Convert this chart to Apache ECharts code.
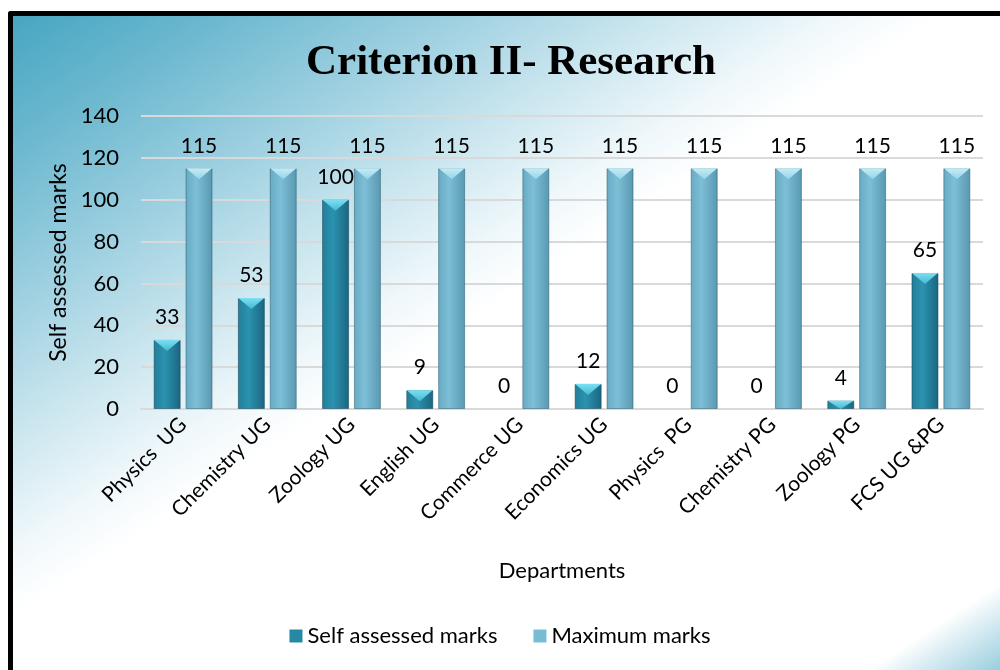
<!DOCTYPE html>
<html>
<head>
<meta charset="utf-8">
<script src="https://cdn.jsdelivr.net/npm/echarts@6/dist/echarts.min.js"></script>
<style>
  html, body { margin: 0; padding: 0; background: #ffffff; width: 1000px; height: 670px; overflow: hidden; }
  #bg { position: absolute; left: 8px; top: 11px; width: 1010px; height: 680px;
        border-left: 5px solid #000; border-top: 5px solid #000; border-top-left-radius: 3px;
        background: linear-gradient(147deg, #47a6c2 0%, #6cb8cf 10%, #9ccfe0 21%, #c9e5ee 31%, #f0f8fb 40%, #ffffff 45%, #ffffff 90.5%, #e6f3f7 92%, #a8d5e3 96%, #62b3cc 100%); }
  #chart { position: absolute; left: 0; top: 0; width: 1000px; height: 670px; }
</style>
</head>
<body>
<div id="bg"></div>
<div id="chart"></div>
<script>
const categories = ['Physics  UG', 'Chemistry UG', 'Zoology UG', 'English UG', 'Commerce UG', 'Economics UG', 'Physics  PG', 'Chemistry PG', 'Zoology PG', 'FCS UG &PG'];
const selfAssessed = [33, 53, 100, 9, 0, 12, 0, 0, 4, 65];
const maximumMarks = [115, 115, 115, 115, 115, 115, 115, 115, 115, 115];
const yTicks = { min: 0, max: 140, interval: 20 };

const FONT = 'Lato, "Open Sans", sans-serif';
const chart = echarts.init(document.getElementById('chart'), null, { renderer: 'canvas' });

const selfColor = new echarts.graphic.LinearGradient(0, 0, 1, 0, [
  { offset: 0, color: '#237d98' }, { offset: 0.4, color: '#2b93b0' }, { offset: 1, color: '#1b6580' }]);
const maxColor = new echarts.graphic.LinearGradient(0, 0, 1, 0, [
  { offset: 0, color: '#67aac3' }, { offset: 0.4, color: '#7dbfd6' }, { offset: 1, color: '#5898b1' }]);
const selfTop = new echarts.graphic.LinearGradient(0, 0, 0, 1, [
  { offset: 0, color: '#7be0f2' }, { offset: 1, color: '#45b8d2' }]);
const maxTop = new echarts.graphic.LinearGradient(0, 0, 0, 1, [
  { offset: 0, color: '#c4ecf6' }, { offset: 1, color: '#97d3e6' }]);

// pixels per unit on the value axis (grid height / axis range), used only to keep the top bevel inside short bars
const pxPerUnit = (670 - 116 - 261) / (yTicks.max - yTicks.min);

function barItems(values, border) {
  return values.map(v => ({ value: v, itemStyle: v > 0 ? { borderColor: border, borderWidth: 1 } : { borderWidth: 0 } }));
}
function topItems(values) {
  return values.map(v => v > 0 ? { value: v, symbolSize: [26, Math.min(11, v * pxPerUnit)] } : '-');
}

const labelStyle = { show: true, position: 'top', distance: 12, fontFamily: FONT, fontSize: 21, color: '#000' };

const option = {
  animation: false,
  backgroundColor: 'transparent',
  title: {
    text: 'Criterion II- Research',
    left: 506, top: 36, textAlign: 'center',
    textStyle: { fontFamily: '"Liberation Serif", "DejaVu Serif", serif', fontWeight: 'bold', fontSize: 43, color: '#000' }
  },
  legend: {
    bottom: 18, left: 'center',
    itemWidth: 13, itemHeight: 13, itemGap: 36,
    textStyle: { fontFamily: FONT, fontSize: 22, color: '#000' },
    data: [
      { name: 'Self assessed marks', icon: 'rect', itemStyle: { color: '#2588a5' } },
      { name: 'Maximum marks', icon: 'rect', itemStyle: { color: '#78bcd4' } }
    ]
  },
  grid: { left: 141, right: 17, top: 116, bottom: 261, containLabel: false },
  xAxis: {
    type: 'category',
    data: categories,
    name: 'Departments',
    nameLocation: 'middle',
    nameGap: 151,
    nameTextStyle: { fontFamily: FONT, fontSize: 22, color: '#000' },
    axisLine: { lineStyle: { color: '#d9d9d9', width: 2 } },
    axisTick: { show: false },
    axisLabel: { rotate: 45, margin: 12, fontFamily: FONT, fontSize: 21, color: '#000' }
  },
  yAxis: {
    type: 'value',
    min: yTicks.min, max: yTicks.max, interval: yTicks.interval,
    name: 'Self assessed marks',
    nameLocation: 'middle',
    nameGap: 67,
    nameTextStyle: { fontFamily: FONT, fontSize: 23, color: '#000' },
    axisLine: { show: false },
    axisTick: { show: false },
    splitLine: { lineStyle: { color: '#d9d9d9', width: 2 } },
    axisLabel: { margin: 22, fontFamily: FONT, fontSize: 22, color: '#000' }
  },
  series: [
    {
      name: 'Self assessed marks', type: 'bar', data: barItems(selfAssessed, 'rgba(10,60,80,0.5)'),
      barWidth: 27, barGap: '18%',
      itemStyle: { color: selfColor },
      label: labelStyle,
      z: 2
    },
    {
      name: 'Maximum marks', type: 'bar', data: barItems(maximumMarks, 'rgba(40,90,110,0.5)'),
      barWidth: 27,
      itemStyle: { color: maxColor },
      label: labelStyle,
      z: 2
    },
    {
      type: 'pictorialBar', silent: true, z: 3,
      data: topItems(selfAssessed),
      symbol: 'path://M0,0 L20,0 L10,9 Z',
      symbolSize: [26, 11], symbolPosition: 'end', symbolOffset: [-16, 0],
      itemStyle: { color: selfTop }
    },
    {
      type: 'pictorialBar', silent: true, z: 3,
      data: topItems(maximumMarks),
      symbol: 'path://M0,0 L20,0 L10,9 Z',
      symbolSize: [26, 11], symbolPosition: 'end', symbolOffset: [16, 0],
      itemStyle: { color: maxTop }
    }
  ]
};
chart.setOption(option);
</script>
</body>
</html>
